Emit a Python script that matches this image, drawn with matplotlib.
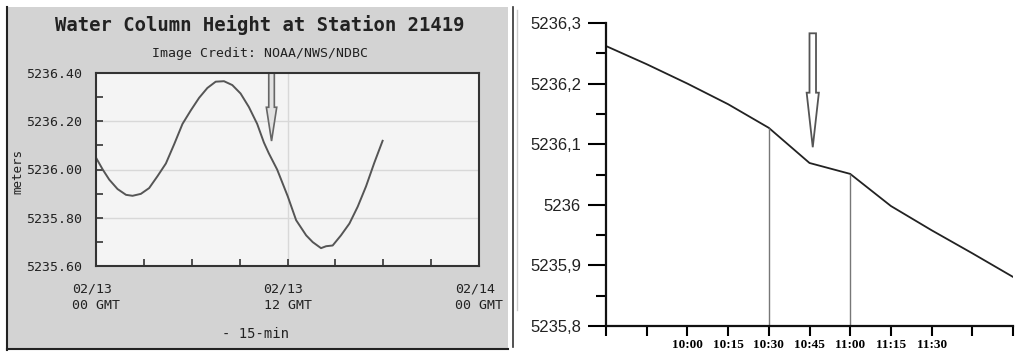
import matplotlib
matplotlib.use("Agg")
import matplotlib.pyplot as plt
from matplotlib.patches import Rectangle, FancyArrow
from matplotlib.lines import Line2D
import numpy as np

# left panel: NOAA station record, hours since 02/13 00 GMT
hours_left = [0, 0.42, 0.83, 1.35, 1.88, 2.29, 2.81, 3.33, 3.85, 4.38, 4.9, 5.42,
              5.94, 6.46, 6.98, 7.5, 8.02, 8.54, 9.06, 9.58, 10.1, 10.52, 10.83,
              11.35, 11.5, 12.02, 12.54, 13.17, 13.58, 14.1, 14.42, 14.83, 15.35,
              15.88, 16.4, 16.92, 17.44, 17.96]
height_left = [5236.049, 5236.000, 5235.958, 5235.919, 5235.895, 5235.891, 5235.899,
               5235.923, 5235.972, 5236.025, 5236.105, 5236.189, 5236.245, 5236.297,
               5236.338, 5236.364, 5236.366, 5236.350, 5236.315, 5236.259, 5236.189,
               5236.112, 5236.067, 5236.000, 5235.975, 5235.888, 5235.790, 5235.727,
               5235.699, 5235.674, 5235.682, 5235.685, 5235.727, 5235.776, 5235.846,
               5235.930, 5236.028, 5236.119]
left_xticklabels = ["02/13\n00 GMT", "", "", "", "02/13\n12 GMT", "", "", "", "02/14\n00 GMT"]

# right panel: zoom 09:30 - 12:00, 15 min steps
hours_right = [9.5, 9.75, 10.0, 10.25, 10.5, 10.75, 11.0, 11.25, 11.5, 11.75, 12.0]
height_right = [5236.262, 5236.232, 5236.200, 5236.166, 5236.127, 5236.069,
                5236.051, 5235.998, 5235.958, 5235.920, 5235.881]
right_xticklabels = ["", "", "10:00", "10:15", "10:30", "10:45", "11:00", "11:15", "11:30", "", ""]
right_yticks = [5235.8, 5235.9, 5236.0, 5236.1, 5236.2, 5236.3]
right_yticklabels = ["5235,8", "5235,9", "5236", "5236,1", "5236,2", "5236,3"]
marked_times = [10.5, 11.0]

# arrow positions (time, top, tip)
arrow_left = (11.0, 5236.40, 5236.118)
arrow_right = (10.77, 5236.283, 5236.095)

W, H = 1016, 352
fig = plt.figure(figsize=(W / 100, H / 100), dpi=100)
fig.patch.set_facecolor("white")

# gray frame of the left picture
fig.patches.append(Rectangle((7 / W, 2 / H), 501 / W, 343 / H, transform=fig.transFigure,
                             facecolor="#d3d3d3", edgecolor="none", zorder=-5))
fig.lines.append(Line2D([7 / W, 7 / W], [2 / H, 345 / H], transform=fig.transFigure, color="#222", lw=1.5, zorder=-4))
fig.lines.append(Line2D([7 / W, 508 / W], [3 / H, 3 / H], transform=fig.transFigure, color="#222", lw=1.5, zorder=-4))
# double rule at left of right picture
fig.lines.append(Line2D([513 / W, 513 / W], [5 / H, 345 / H], transform=fig.transFigure, color="#333", lw=1.2, zorder=-4))
fig.lines.append(Line2D([517 / W, 517 / W], [42 / H, 342 / H], transform=fig.transFigure, color="#ccc", lw=1, zorder=-4))

mono = "DejaVu Sans Mono"

# ---- left chart
ax1 = fig.add_axes([96 / W, 86 / H, 383 / W, 193 / H])
ax1.set_facecolor("#f4f4f4")
ax1.plot(hours_left, height_left, color="#555555", lw=1.4)
ax1.set_xlim(0, 24)
ax1.set_ylim(5235.6, 5236.4)
ax1.set_xticks(np.arange(0, 25, 3))
ax1.set_xticklabels(left_xticklabels, family=mono, fontsize=9.5, color="#222", linespacing=1.35)
for lab in ax1.get_xticklabels():
    lab.set_multialignment("left")
ax1.set_yticks([5235.6, 5235.8, 5236.0, 5236.2, 5236.4])
ax1.set_yticklabels(["5235.60", "5235.80", "5236.00", "5236.20", "5236.40"], family=mono,
                    fontsize=9.5, color="#222")
ax1.set_yticks([5235.7, 5235.9, 5236.1, 5236.3], minor=True)
ax1.tick_params(axis="both", which="both", direction="in", length=5, width=1.2, color="#333")
ax1.tick_params(axis="x", pad=12)
ax1.tick_params(axis="y", pad=10)
for y in [5235.8, 5236.0, 5236.2]:
    ax1.axhline(y, color="#d8d8d8", lw=1, zorder=0)
ax1.axvline(12, color="#d8d8d8", lw=1, zorder=0)
for s in ax1.spines.values():
    s.set_color("#333")
    s.set_linewidth(1.5)
x, top, tip = arrow_left
ax1.add_patch(FancyArrow(x, top, 0, tip - top, width=0.35, head_width=0.65, head_length=0.14,
                         length_includes_head=True, facecolor="#e2e2e2", edgecolor="#666", lw=1.2))
fig.text(18 / W, 1 - 172 / H, "meters", family=mono, fontsize=9, rotation=90,
         ha="center", va="center", color="#222")
fig.text(260 / W, 1 - 25 / H, "Water Column Height at Station 21419", family=mono, fontweight="bold",
         fontsize=13.6, ha="center", va="center", color="#222")
fig.text(260 / W, 1 - 54 / H, "Image Credit: NOAA/NWS/NDBC", family=mono, fontsize=9.5,
         ha="center", va="center", color="#222")
fig.text(255 / W, 1 - 334 / H, "- 15-min", family=mono, fontsize=10, ha="center", va="center", color="#222")

# ---- right chart
ax2 = fig.add_axes([606 / W, 26 / H, 407 / W, 303 / H])
ax2.set_facecolor("white")
ax2.plot(hours_right, height_right, color="#222", lw=1.3)
ax2.set_xlim(9.5, 12.0)
ax2.set_ylim(5235.8, 5236.3)
ax2.set_xticks(hours_right)
ax2.set_xticklabels(right_xticklabels, family="Liberation Serif", fontweight="bold", fontsize=9.5)
ax2.set_yticks(right_yticks)
ax2.set_yticklabels(right_yticklabels, family="Liberation Sans", fontsize=12, color="#222")
ax2.set_yticks([5235.85, 5235.95, 5236.05, 5236.15, 5236.25], minor=True)
ax2.tick_params(axis="y", which="major", direction="out", length=13, width=1.5, pad=5)
ax2.tick_params(axis="y", which="minor", direction="out", length=7, width=1.5)
ax2.tick_params(axis="x", which="major", direction="out", length=7, width=1.5, pad=2)
for side in ["top", "right"]:
    ax2.spines[side].set_visible(False)
for side in ["left", "bottom"]:
    ax2.spines[side].set_linewidth(1.6)
    ax2.spines[side].set_color("#111")
for t in marked_times:
    ax2.vlines(t, 5235.8, np.interp(t, hours_right, height_right), color="#777", lw=1)
x, top, tip = arrow_right
ax2.add_patch(FancyArrow(x, top, 0, tip - top, width=0.04, head_width=0.075, head_length=0.09,
                         length_includes_head=True, facecolor="white", edgecolor="#555", lw=1.3,
                         clip_on=False))

fig.savefig("out.png", dpi=100, facecolor="white")
